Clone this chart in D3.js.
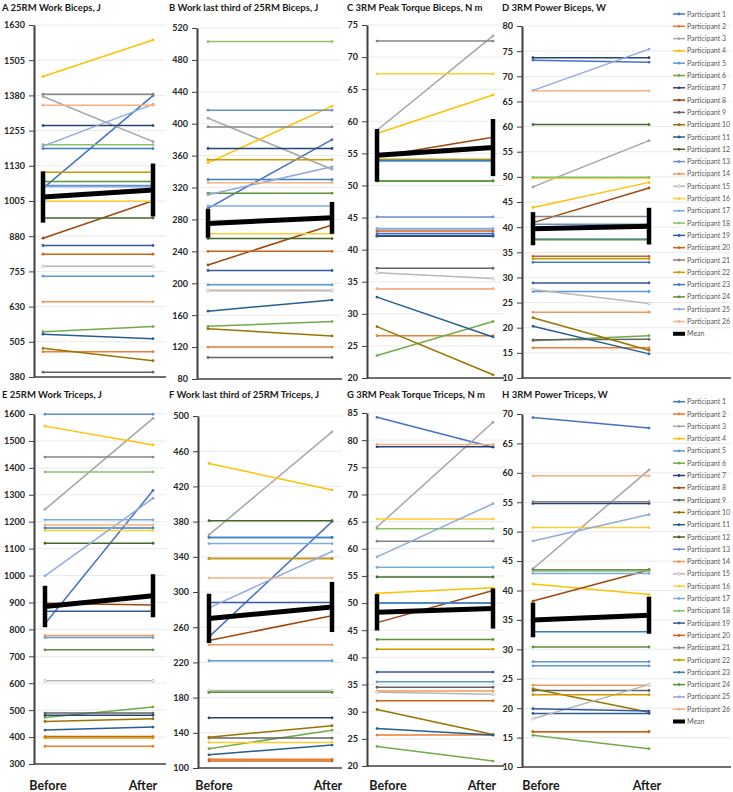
<!DOCTYPE html>
<html>
<head>
<meta charset="utf-8">
<script src="https://cdn.jsdelivr.net/npm/d3@7"></script>
<style>
  body { margin: 0; background: #fff; }
  text { font-family: Lato, "Open Sans", "DejaVu Sans", sans-serif; }
</style>
</head>
<body>
<svg id="chart" width="733" height="792"></svg>
<script>
"use strict";

// categories
const phases = ["Before", "After"];
const participants = ["Participant 1", "Participant 2", "Participant 3", "Participant 4", "Participant 5",
  "Participant 6", "Participant 7", "Participant 8", "Participant 9", "Participant 10", "Participant 11",
  "Participant 12", "Participant 13", "Participant 14", "Participant 15", "Participant 16", "Participant 17",
  "Participant 18", "Participant 19", "Participant 20", "Participant 21", "Participant 22", "Participant 23",
  "Participant 24", "Participant 25", "Participant 26"];

// excel style series colours, participant 1..26
const colors = ["#4472C4", "#ED7D31", "#A5A5A5", "#FFC000", "#5B9BD5", "#70AD47", "#264478", "#9E480E",
  "#636363", "#997300", "#255E91", "#43682B", "#698ED0", "#F1975A", "#B7B7B7", "#FFCD33", "#7CAFDD",
  "#8CC168", "#335AA1", "#D26012", "#848484", "#CC9A00", "#3A7EC0", "#5B9138", "#8FAADC", "#F4B183"];

// A 25RM work biceps (J)
const workBicepsBefore = [1050, 470, 1376, 1447, 738, 541, 1273, 873, 397, 482, 532, 945, 1060, 647, 773, 1004, 1056, 1205, 847, 816, 1384, 1107, 1191, 1074, 1200, 1345];
const workBicepsAfter  = [1379, 470, 1216, 1577, 738, 559, 1273, 1006, 397, 438, 516, 945, 1060, 647, 773, 1004, 1056, 1205, 847, 816, 1384, 1107, 1191, 1074, 1348, 1345];
const workBicepsMean = [1019, 1044];
const workBicepsErr = [91, 94];

// B work last third biceps (J)
const lastThirdBicepsBefore = [294, 120, 407, 351, 198, 146, 369, 223, 107, 143, 165, 256, 417, 191, 191, 262, 297, 503, 216, 240, 396, 355, 330, 313, 311, 326];
const lastThirdBicepsAfter  = [380, 120, 343, 422, 198, 152, 369, 273, 107, 134, 179, 256, 417, 191, 191, 262, 297, 503, 216, 240, 396, 355, 330, 313, 346, 326];
const lastThirdBicepsMean = [275, 282];
const lastThirdBicepsErr = [18, 20];

// C 3RM peak torque biceps (N m)
const torqueBicepsBefore = [42.5, 26.6, 58.6, 58.1, 53.8, 23.5, 42.1, 54.5, 37.1, 28.0, 32.6, 50.7, 45.1, 33.9, 36.4, 67.4, 43.3, 50.7, 42.2, 42.9, 72.5, 54.1, 53.9, 50.7, 43.2, 33.9];
const torqueBicepsAfter  = [42.5, 26.6, 73.3, 64.1, 53.8, 28.8, 42.1, 57.5, 37.1, 20.5, 26.4, 50.7, 45.1, 33.9, 35.5, 67.4, 43.3, 50.7, 42.2, 42.9, 72.5, 54.1, 53.9, 50.7, 43.2, 33.9];
const torqueBicepsMean = [54.7, 55.9];
const torqueBicepsErr = [4.1, 4.45];

// D 3RM power biceps (W)
const powerBicepsBefore = [73.2, 16.0, 48.0, 43.9, 27.2, 17.4, 73.7, 40.9, 17.6, 22.0, 20.3, 60.4, 40.6, 23.1, 27.6, 49.7, 37.7, 49.9, 28.9, 34.2, 42.1, 33.7, 33.0, 37.5, 67.2, 67.1];
const powerBicepsAfter  = [72.8, 16.0, 57.2, 48.9, 27.2, 18.4, 73.7, 47.8, 17.7, 15.5, 14.8, 60.4, 40.6, 23.1, 24.8, 49.7, 37.7, 49.9, 28.9, 34.2, 42.1, 33.7, 33.0, 37.5, 75.4, 67.1];
const powerBicepsMean = [39.7, 40.2];
const powerBicepsErr = [3.3, 3.65];

// E 25RM work triceps (J)
const workTricepsBefore = [821, 366, 1246, 1555, 770, 473, 481, 897, 489, 458, 426, 1120, 1599, 777, 609, 1167, 1207, 1385, 867, 402, 1440, 397, 1177, 724, 999, 1188];
const workTricepsAfter  = [1316, 366, 1584, 1485, 770, 512, 481, 891, 489, 468, 437, 1120, 1599, 777, 609, 1167, 1207, 1385, 867, 402, 1440, 397, 1177, 724, 1287, 1188];
const workTricepsMean = [885, 925];
const workTricepsErr = [77, 80];

// F work last third triceps (J)
const lastThirdTricepsBefore = [249, 110, 365, 446, 222, 122, 157, 245, 134, 135, 115, 381, 362, 240, 188, 129, 355, 186, 288, 108, 338, 338, 362, 186, 282, 316];
const lastThirdTricepsAfter  = [380, 110, 482, 416, 222, 143, 157, 273, 134, 148, 126, 381, 362, 240, 188, 129, 355, 186, 288, 108, 338, 338, 362, 186, 346, 316];
const lastThirdTricepsMean = [270, 283];
const lastThirdTricepsErr = [28, 28.5];

// G 3RM peak torque triceps (N m)
const torqueTricepsBefore = [84.2, 25.7, 64.0, 51.8, 35.5, 23.6, 78.8, 46.4, 34.5, 30.4, 26.9, 54.8, 50.0, 33.8, 33.6, 65.5, 56.6, 63.7, 37.3, 32.0, 61.4, 41.5, 50.0, 43.3, 58.5, 79.2];
const torqueTricepsAfter  = [78.7, 25.7, 83.3, 52.8, 35.5, 20.9, 78.8, 52.3, 34.5, 25.8, 25.7, 54.8, 50.0, 33.8, 33.2, 65.5, 56.6, 63.7, 37.3, 32.0, 61.4, 41.5, 50.0, 43.3, 68.3, 79.2];
const torqueTricepsMean = [48.3, 49.0];
const torqueTricepsErr = [3.35, 3.7];

// H 3RM power triceps (W)
const powerTricepsBefore = [69.4, 16.0, 43.7, 41.1, 27.2, 15.4, 54.8, 38.2, 23.0, 23.3, 19.1, 43.5, 27.9, 23.9, 18.2, 50.7, 42.9, 43.3, 19.9, 16.0, 55.1, 22.3, 33.0, 30.4, 48.4, 59.5];
const powerTricepsAfter  = [67.6, 16.0, 60.5, 39.3, 27.2, 13.1, 54.8, 43.5, 23.0, 19.3, 19.1, 43.5, 27.9, 23.9, 24.0, 50.7, 42.9, 43.3, 19.5, 16.0, 55.1, 22.3, 33.0, 30.4, 52.9, 59.5];
const powerTricepsMean = [35.0, 35.8];
const powerTricepsErr = [2.95, 3.15];

// panels: data + axis range + layout (pixel boxes)
const panels = [
  { title: "A 25RM Work Biceps, J", before: workBicepsBefore, after: workBicepsAfter, mean: workBicepsMean, err: workBicepsErr,
    min: 380, max: 1630, step: 125, axisX: 34, xEnd: 166, xB: 43, xA: 153, top: 25, bottom: 377, titleX: 2, titleY: 11 },
  { title: "B Work last third of 25RM Biceps, J", before: lastThirdBicepsBefore, after: lastThirdBicepsAfter, mean: lastThirdBicepsMean, err: lastThirdBicepsErr,
    min: 80, max: 520, step: 40, axisX: 197, xEnd: 342, xB: 208, xA: 332, top: 28, bottom: 379, titleX: 169, titleY: 11 },
  { title: "C 3RM Peak Torque Biceps, N m", before: torqueBicepsBefore, after: torqueBicepsAfter, mean: torqueBicepsMean, err: torqueBicepsErr,
    min: 20, max: 75, step: 5, axisX: 367, xEnd: 504, xB: 377, xA: 493, top: 25, bottom: 378, titleX: 347, titleY: 11 },
  { title: "D 3RM Power Biceps, W", before: powerBicepsBefore, after: powerBicepsAfter, mean: powerBicepsMean, err: powerBicepsErr,
    min: 10, max: 80, step: 5, axisX: 522, xEnd: 731, xB: 533, xA: 649, top: 26, bottom: 378, titleX: 502, titleY: 11, legendY: 14 },
  { title: "E 25RM Work Triceps, J", before: workTricepsBefore, after: workTricepsAfter, mean: workTricepsMean, err: workTricepsErr,
    min: 300, max: 1600, step: 100, axisX: 34, xEnd: 166, xB: 45, xA: 153, top: 414, bottom: 764, titleX: 2, titleY: 398, labels: [3, -10] },
  { title: "F Work last third of 25RM Triceps, J", before: lastThirdTricepsBefore, after: lastThirdTricepsAfter, mean: lastThirdTricepsMean, err: lastThirdTricepsErr,
    min: 100, max: 500, step: 40, axisX: 198, xEnd: 342, xB: 209, xA: 332, top: 416, bottom: 768, titleX: 169, titleY: 398, labels: [5, -4] },
  { title: "G 3RM Peak Torque Triceps, N m", before: torqueTricepsBefore, after: torqueTricepsAfter, mean: torqueTricepsMean, err: torqueTricepsErr,
    min: 20, max: 85, step: 5, axisX: 367, xEnd: 504, xB: 377, xA: 493, top: 413, bottom: 766, titleX: 347, titleY: 398, labels: [11, -11] },
  { title: "H 3RM Power Triceps, W", before: powerTricepsBefore, after: powerTricepsAfter, mean: powerTricepsMean, err: powerTricepsErr,
    min: 10, max: 70, step: 5, axisX: 522, xEnd: 731, xB: 533, xA: 649, top: 414, bottom: 767, titleX: 502, titleY: 398, legendY: 401.7, labels: [8, -2] }
];

const svg = d3.select("#chart");

function drawPanel(p) {
  const g = svg.append("g");
  const y = d3.scaleLinear().domain([p.min, p.max]).range([p.bottom, p.top]);
  const x = d3.scalePoint().domain(phases).range([p.xB, p.xA]);
  const ticks = d3.range(p.min, p.max + p.step / 2, p.step);

  // gridlines
  g.selectAll("line.grid")
    .data(ticks.slice(1))
    .join("line")
    .attr("class", "grid")
    .attr("x1", p.axisX).attr("x2", p.xEnd)
    .attr("y1", d => y(d)).attr("y2", d => y(d))
    .attr("stroke", "#e4e4e4")
    .attr("stroke-width", 0.8);

  // x axis line
  g.append("line")
    .attr("x1", p.axisX).attr("x2", p.xEnd)
    .attr("y1", p.bottom).attr("y2", p.bottom)
    .attr("stroke", "#404040")
    .attr("stroke-width", 1.6);

  // y axis
  const ax = g.append("g")
    .attr("transform", "translate(" + p.axisX + ",0)")
    .call(d3.axisLeft(y).tickValues(ticks).tickSize(5).tickSizeOuter(0).tickPadding(4).tickFormat(d3.format("d")));
  ax.select(".domain").attr("stroke", "#404040").attr("stroke-width", 2);
  ax.selectAll(".tick line").attr("stroke", "#404040").attr("stroke-width", 1);
  ax.selectAll(".tick text")
    .attr("fill", "#262626")
    .style("font-size", "9px")
    .style("font-weight", "bold");

  // title
  g.append("text")
    .attr("x", p.titleX).attr("y", p.titleY)
    .attr("fill", "#1a1a1a")
    .style("font-size", "9.5px")
    .style("font-weight", "bold")
    .text(p.title);

  // participant lines
  const line = d3.line().x(d => x(d.phase)).y(d => y(d.value));
  participants.forEach(function(name, i) {
    const pts = [{ phase: phases[0], value: p.before[i] }, { phase: phases[1], value: p.after[i] }];
    g.append("path")
      .datum(pts)
      .attr("d", line)
      .attr("fill", "none")
      .attr("stroke", colors[i])
      .attr("stroke-width", 1.5);
    g.selectAll(null)
      .data(pts)
      .join("circle")
      .attr("cx", d => x(d.phase))
      .attr("cy", d => y(d.value))
      .attr("r", 1.4)
      .attr("fill", i === 14 ? "#fff" : colors[i])
      .attr("stroke", colors[i])
      .attr("stroke-width", i === 14 ? 0.8 : 0);
  });

  // mean with error bars
  const meanPts = phases.map((ph, k) => ({ phase: ph, value: p.mean[k], err: p.err[k] }));
  g.selectAll("line.err")
    .data(meanPts)
    .join("line")
    .attr("class", "err")
    .attr("x1", d => x(d.phase)).attr("x2", d => x(d.phase))
    .attr("y1", d => y(d.value - d.err)).attr("y2", d => y(d.value + d.err))
    .attr("stroke", "#000")
    .attr("stroke-width", 4.5);
  g.append("path")
    .datum(meanPts)
    .attr("d", line)
    .attr("fill", "none")
    .attr("stroke", "#000")
    .attr("stroke-width", 5);

  // category labels on bottom row
  if (p.labels) {
    g.selectAll("text.cat")
      .data(phases)
      .join("text")
      .attr("class", "cat")
      .attr("x", (d, k) => x(d) + p.labels[k])
      .attr("y", 790)
      .attr("text-anchor", "middle")
      .attr("fill", "#1a1a1a")
      .style("font-size", "12.5px")
      .style("font-weight", "bold")
      .text(d => d);
  }

  // legend
  if (p.legendY !== undefined) {
    const step = 12.3;
    const lx = 673;
    const items = participants.map((n, i) => ({ name: n, color: colors[i], i: i }));
    items.push({ name: "Mean", color: "#000", i: -1 });
    const lg = g.append("g");
    items.forEach(function(it, k) {
      const yy = p.legendY + k * step;
      lg.append("line")
        .attr("x1", lx).attr("x2", lx + 12)
        .attr("y1", yy).attr("y2", yy)
        .attr("stroke", it.color)
        .attr("stroke-width", it.i < 0 ? 4 : 1.5);
      if (it.i >= 0) {
        lg.append("circle")
          .attr("cx", lx + 6).attr("cy", yy).attr("r", 1.4)
          .attr("fill", it.i === 14 ? "#fff" : it.color)
          .attr("stroke", it.color)
          .attr("stroke-width", it.i === 14 ? 0.8 : 0);
      }
      lg.append("text")
        .attr("x", lx + 14).attr("y", yy + 2.5)
        .attr("fill", "#595959")
        .style("font-size", "7px")
        .text(it.name);
    });
  }
}

panels.forEach(drawPanel);
</script>
</body>
</html>
